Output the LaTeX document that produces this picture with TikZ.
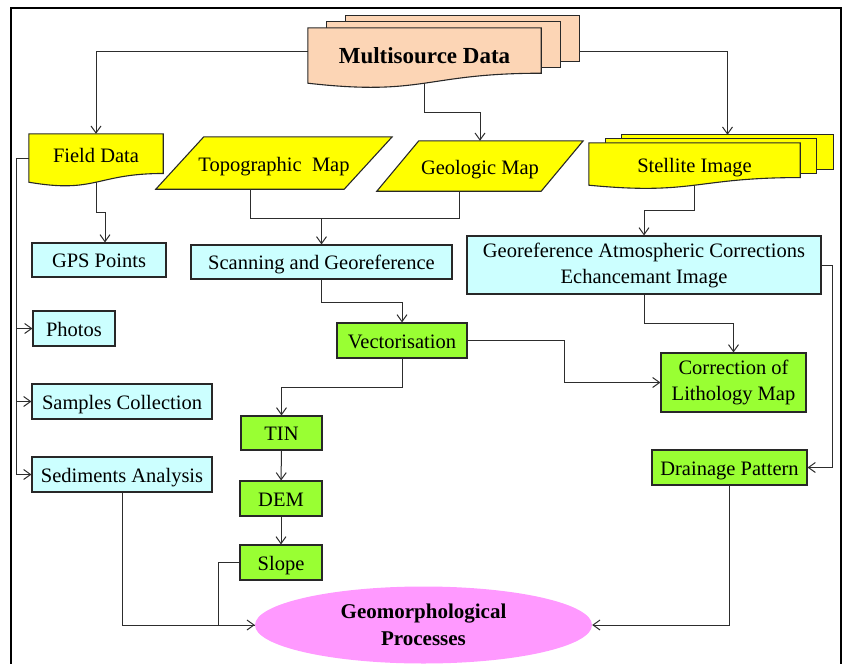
\documentclass[tikz,border=0pt]{standalone}
\usepackage{fontspec}
\setmainfont{Liberation Serif}
\usetikzlibrary{
  arrows.meta,
  positioning,
  shapes.geometric,
  calc,
  backgrounds
}
\definecolor{peach}{RGB}{252,213,181}
\definecolor{srcyellow}{RGB}{255,255,0}
\definecolor{stepcyan}{RGB}{204,255,255}
\definecolor{stepgreen}{RGB}{153,255,51}
\definecolor{endpink}{RGB}{255,153,255}
\definecolor{edge}{RGB}{40,40,40}
\definecolor{wire}{RGB}{45,45,45}

% document outline with a wavy bottom, drawn round a node
\newcommand{\docshape}[2]{%
  \path[docline, fill=#2] (#1.north west) -- (#1.north east)
    -- ($(#1.north east)!0.82!(#1.south east)$)
    .. controls ($(#1.north)!0.82!(#1.south)$) and ($(#1.north)!1.24!(#1.south)$) .. (#1.south west)
    -- cycle;}
% two sheets stacked behind a document
\newcommand{\sheets}[4]{%
  \foreach \k in {2,1} {
    \path[docline, fill=#2] ($(#1.north west)+(\k*#3,-\k*#4)$)
      rectangle ($($(#1.north east)!0.82!(#1.south east)$)+(\k*#3,-\k*#4)$);
  }}
% parallelogram round a node
\newcommand{\paral}[2]{%
  \path[docline, fill=srcyellow] ([xshift=#2]#1.north west) -- ([xshift=#2]#1.north east)
    -- ([xshift=-#2]#1.south east) -- ([xshift=-#2]#1.south west) -- cycle;}

\begin{document}
\begin{tikzpicture}[
  x=1pt, y=-1pt,
  every node/.style={font=\fontsize{20.5}{26}\selectfont},
  docline/.style={draw=edge, line width=1.1pt},
  plain/.style={inner sep=0pt, align=center, text depth=0pt},
  boxc/.style={draw=edge, line width=1.1pt, fill=stepcyan, inner sep=0pt,
               minimum height=35pt, align=center, text height=15pt, text depth=0pt},
  boxg/.style={draw=edge, line width=1.1pt, fill=stepgreen, inner sep=0pt,
               minimum height=35pt, align=center, text height=15pt, text depth=0pt},
  twoline/.style={text height={}, text depth={}},
  flow/.style={draw=wire, line width=1pt},
  >={Straight Barb[length=7pt,width=10pt]}
]
\useasboundingbox (0,0) rectangle (844,664);
\draw[line width=1.2pt] (11,664) -- (11,8) -- (841,8) -- (841,664);

% sources
\node[plain, text height=15pt, minimum width=233pt, minimum height=55pt,
      font=\bfseries\fontsize{23}{28}\selectfont] (ms) at (424.5,55.5) {Multisource Data};
\node[plain, text height=8pt, minimum width=134pt, minimum height=48pt] (fd) at (96,158) {Field Data};
\node[plain, text height=17pt, minimum width=188pt, minimum height=52pt] (topo) at (274,163) {Topographic\ \ Map};
\node[plain, text height=17pt, minimum width=164pt, minimum height=50pt] (geo) at (480,166) {Geologic Map};
\node[plain, text height=17pt, minimum width=211pt, minimum height=42pt] (si) at (694.5,164) {Stellite Image};

% processing steps
\node[boxc, minimum width=134pt, minimum height=34pt] (gps) at (99,260) {GPS Points};
\node[boxc, minimum width=261pt, minimum height=34pt] (scan) at (321.5,262) {Scanning and Georeference};
\node[boxc, twoline, minimum width=354pt, minimum height=58pt] (geoc) at (644,265)
  {Georeference Atmospheric Corrections\\Echancemant Image};
\node[boxc, minimum width=82pt] (photos) at (74,328.5) {Photos};
\node[boxc, minimum width=180pt] (samples) at (122,401.5) {Samples Collection};
\node[boxc, minimum width=180pt] (sed) at (122,474.5) {Sediments Analysis};
\node[boxg, minimum width=130pt] (vect) at (402,340.5) {Vectorisation};
\node[boxg, twoline, minimum width=145pt, minimum height=59pt] (litho) at (733.5,382.5)
  {Correction of\\Lithology Map};
\node[boxg, minimum width=81pt, minimum height=34pt] (tin) at (281.5,433) {TIN};
\node[boxg, minimum width=155pt] (drain) at (729.5,467.5) {Drainage Pattern};
\node[boxg, minimum width=82pt] (dem) at (281,498.5) {DEM};
\node[boxg, minimum width=82pt] (slope) at (281,562.5) {Slope};
\node[ellipse, fill=endpink, minimum width=337pt, minimum height=77pt, inner sep=0pt,
      align=center, font=\bfseries\fontsize{21}{27}\selectfont] (gp) at (423.5,625)
  {Geomorphological\\Processes};

% outlines behind the source nodes
\begin{scope}[on background layer]
  \sheets{ms}{peach}{19}{6}
  \docshape{ms}{peach}
  \docshape{fd}{srcyellow}
  \sheets{si}{srcyellow}{16.5}{4}
  \docshape{si}{srcyellow}
  \paral{topo}{24pt}
  \paral{geo}{21pt}
\end{scope}

\coordinate (msleft) at ($(ms.west)+(0,-4.5)$);
\coordinate (msright) at ($(ms.east)+(38,-4.5)$);
\coordinate (sitop) at ($(si.north)+(33,-8)$);
\coordinate (mapjoin) at (321.5,218);

\draw[flow, ->] (msleft) -| (fd);
\draw[flow, ->] (msright) -| (sitop);
\draw[flow, ->] (ms.south) -- ++(0,29) -| (geo);

\draw[flow, ->] (fd.south) -- ++(0,30) -| ([xshift=6pt]gps.north);
\draw[flow] (fd.west) -- ++(-12,0) coordinate (bus);
\foreach \t in {photos,samples,sed}
  \draw[flow, ->] (bus) |- (\t);

\draw[flow] ([xshift=-24pt]topo.south) |- (mapjoin);
\draw[flow] ([xshift=-21pt]geo.south) |- (mapjoin);
\draw[flow, ->] (mapjoin) -- (scan);
\draw[flow, ->] (scan.south) -- ++(0,23) -| (vect);

\draw[flow, ->] (si.south) -- ++(0,25) -| (geoc);
\draw[flow, ->] (geoc.south) -- ++(0,29) -| (litho);
\draw[flow, ->] (vect.east) -- ++(97,0) |- (litho);
\draw[flow, ->] (geoc.east) -- ++(11,0) |- (drain);

\draw[flow, ->] (vect.south) -- ++(0,29) -| (tin);
\draw[flow, ->] (tin) -- (dem);
\draw[flow, ->] (dem) -- (slope);

\draw[flow, ->] (sed.south) |- (gp);
\draw[flow] (slope.west) -- ++(-21,0) |- (gp.west);
\draw[flow, ->] (drain.south) |- (gp);

\end{tikzpicture}
\end{document}
